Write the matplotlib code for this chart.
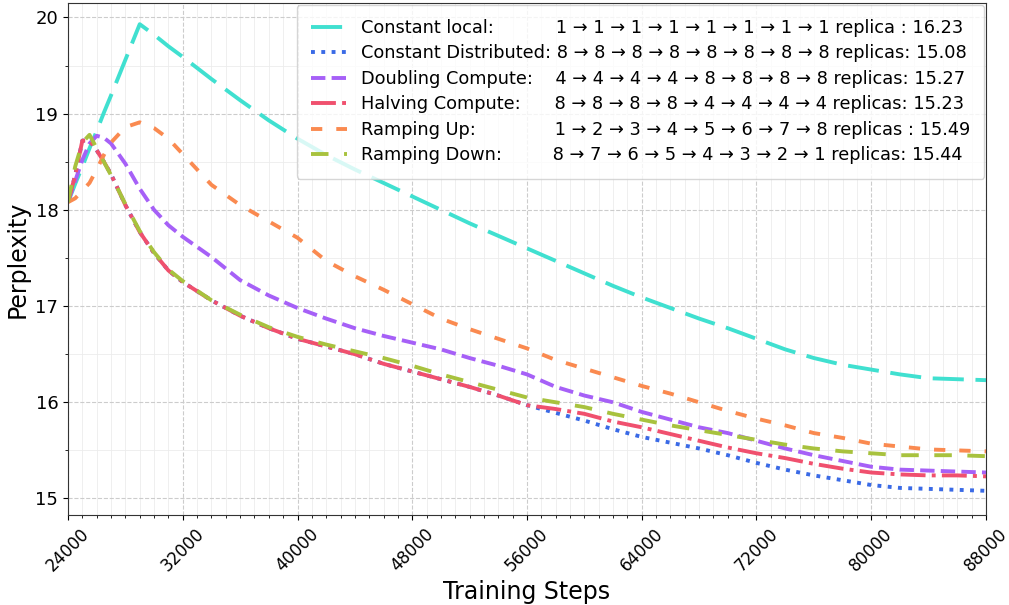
import matplotlib
matplotlib.use("Agg")
import matplotlib.pyplot as plt
from matplotlib.ticker import MultipleLocator

steps = [24000, 24500, 25000, 25500, 26000, 26500, 27000, 28000, 29000, 30000,
         31000, 32000, 34000, 36000, 38000, 40000, 42000, 44000, 46000, 48000,
         50000, 52000, 54000, 56000, 58000, 60000, 62000, 64000, 66000, 68000,
         70000, 72000, 74000, 76000, 78000, 80000, 82000, 84000, 86000, 88000]

constant_local = [18.08, 18.27, 18.45, 18.64, 18.82, 19.01, 19.19, 19.56, 19.93, 19.82,
                  19.70, 19.59, 19.36, 19.14, 18.93, 18.74, 18.57, 18.42, 18.28, 18.14,
                  18.00, 17.86, 17.73, 17.60, 17.47, 17.34, 17.21, 17.09, 16.98, 16.87,
                  16.77, 16.66, 16.55, 16.46, 16.39, 16.34, 16.29, 16.25, 16.24, 16.23]

constant_distributed = [18.08, 18.36, 18.72, 18.72, 18.62, 18.50, 18.37, 18.05, 17.77, 17.55,
                        17.37, 17.25, 17.06, 16.90, 16.77, 16.66, 16.58, 16.50, 16.40, 16.32,
                        16.24, 16.16, 16.07, 15.97, 15.89, 15.81, 15.72, 15.64, 15.58, 15.52,
                        15.45, 15.37, 15.30, 15.24, 15.19, 15.14, 15.11, 15.10, 15.09, 15.08]

doubling_compute = [18.08, 18.30, 18.52, 18.69, 18.77, 18.75, 18.69, 18.48, 18.22, 18.00,
                    17.84, 17.72, 17.51, 17.27, 17.11, 16.98, 16.87, 16.77, 16.69, 16.62,
                    16.55, 16.46, 16.38, 16.29, 16.16, 16.07, 16.00, 15.90, 15.82, 15.74,
                    15.68, 15.60, 15.52, 15.45, 15.39, 15.33, 15.30, 15.29, 15.28, 15.27]

halving_compute = [18.08, 18.36, 18.72, 18.72, 18.62, 18.50, 18.37, 18.05, 17.77, 17.55,
                   17.37, 17.25, 17.06, 16.90, 16.77, 16.66, 16.58, 16.50, 16.40, 16.32,
                   16.24, 16.16, 16.07, 15.97, 15.93, 15.88, 15.80, 15.74, 15.67, 15.60,
                   15.53, 15.47, 15.42, 15.36, 15.31, 15.27, 15.25, 15.24, 15.24, 15.23]

ramping_up = [18.08, 18.12, 18.20, 18.28, 18.42, 18.57, 18.70, 18.86, 18.91, 18.85,
              18.74, 18.58, 18.26, 18.05, 17.88, 17.71, 17.47, 17.31, 17.17, 17.02,
              16.87, 16.76, 16.66, 16.56, 16.44, 16.35, 16.26, 16.17, 16.09, 16.00,
              15.91, 15.83, 15.76, 15.68, 15.63, 15.57, 15.54, 15.51, 15.50, 15.49]

ramping_down = [18.08, 18.45, 18.70, 18.78, 18.64, 18.50, 18.36, 18.06, 17.78, 17.56,
                17.38, 17.26, 17.06, 16.91, 16.78, 16.68, 16.60, 16.53, 16.46, 16.38,
                16.29, 16.21, 16.13, 16.05, 16.00, 15.95, 15.88, 15.82, 15.76, 15.71,
                15.66, 15.61, 15.56, 15.52, 15.49, 15.47, 15.45, 15.45, 15.45, 15.44]

labels = [
    "Constant local:           1 → 1 → 1 → 1 → 1 → 1 → 1 → 1 replica : 16.23",
    "Constant Distributed: 8 → 8 → 8 → 8 → 8 → 8 → 8 → 8 replicas: 15.08",
    "Doubling Compute:    4 → 4 → 4 → 4 → 8 → 8 → 8 → 8 replicas: 15.27",
    "Halving Compute:      8 → 8 → 8 → 8 → 4 → 4 → 4 → 4 replicas: 15.23",
    "Ramping Up:              1 → 2 → 3 → 4 → 5 → 6 → 7 → 8 replicas : 15.49",
    "Ramping Down:         8 → 7 → 6 → 5 → 4 → 3 → 2 → 1 replicas: 15.44",
]

xticks = [24000, 32000, 40000, 48000, 56000, 64000, 72000, 80000, 88000]
yticks = [15, 16, 17, 18, 19, 20]

colors = ["#40E0D0", "#3A6AE6", "#A660F7", "#F0506E", "#FA8A50", "#A8C23E"]

fig = plt.figure(figsize=(10.09, 6.05), dpi=100)
ax = fig.add_axes([0.0674, 0.149, 0.9098, 0.846])

lw = 2.8
series = [constant_local, constant_distributed, doubling_compute,
          halving_compute, ramping_up, ramping_down]
styles = [(0, (8, 3)), ":", "--", "-.", (0, (2.9, 3.6)), (0, (4.5, 4))]
for vals, lab, col, ls in zip(series, labels, colors, styles):
    ax.plot(steps, vals, color=col, linestyle=ls, linewidth=lw, label=lab)

ax.set_xlim(24000, 88000)
ax.set_ylim(14.83, 20.15)
ax.set_xticks(xticks)
ax.set_xticklabels([str(t) for t in xticks], rotation=45, fontsize=12)
ax.set_yticks(yticks)
ax.set_yticklabels([str(t) for t in yticks], fontsize=13)
ax.xaxis.set_minor_locator(MultipleLocator(1000))
ax.yaxis.set_minor_locator(MultipleLocator(0.5))
ax.grid(which="major", color="#cccccc", linestyle="--", linewidth=0.8)
ax.grid(which="minor", color="#ececec", linestyle="-", linewidth=0.6)
ax.set_axisbelow(True)
ax.set_xlabel("Training Steps", fontsize=17)
ax.set_ylabel("Perplexity", fontsize=17)
for s in ax.spines.values():
    s.set_color("#333333")

leg = ax.legend(loc="upper right", fontsize=12.8, labelspacing=0.42,
                borderpad=0.8, borderaxespad=0.1, handlelength=2.0)

fig.savefig("out.png", dpi=100)
